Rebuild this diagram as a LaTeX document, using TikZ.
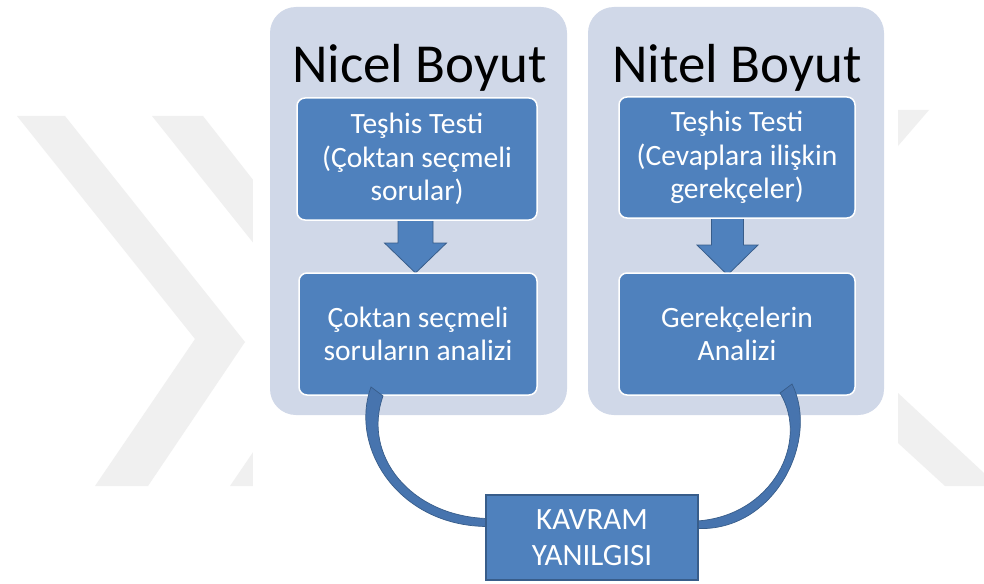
\documentclass[tikz,border=0pt]{standalone}
\usepackage{fontspec}
\setmainfont{Carlito}
\usetikzlibrary{calc}
\definecolor{panelc}{HTML}{D0D8E8}
\definecolor{boxc}{HTML}{4F81BD}
\definecolor{edgec}{HTML}{385D8A}
\definecolor{curvec}{HTML}{4774AE}
\definecolor{wmc}{HTML}{F0F0F0}
\begin{document}
\begin{tikzpicture}[x=1pt,y=-1pt,
  panel/.style={draw=none, fill=panelc, rounded corners=26pt, inner sep=0pt},
  bluebox/.style={draw=white, line width=1.5pt, fill=boxc, rounded corners=8pt,
    text=white, align=center, font=\fontsize{29.5}{33.5}\selectfont, inner sep=0pt},
  titletext/.style={font=\fontsize{55}{60}\selectfont, anchor=base, inner sep=0pt},
  blockarrow/.style={fill=boxc, draw=edgec, line width=0.8pt},
  curvearrow/.style={fill=curvec, draw=edgec, line width=0.7pt},
  watermark/.style={fill=wmc, draw=none},
  resultbox/.style={draw=edgec, line width=1.8pt, fill=boxc, text=white, align=center,
    font=\fontsize{31}{36}\selectfont, inner sep=0pt}]
\useasboundingbox (0,0) rectangle (984,583);
\fill[white] (0,0) rectangle (984,583);
% watermark
\fill[watermark] (17,116) -- (65,116) -- (245,342) -- (148,486) -- (95,486) -- (195,339) -- cycle;
\fill[watermark] (152,116) -- (203,116) -- (380,342) -- (283,486) -- (230,486) -- (330,339) -- cycle;
\fill[watermark] (898,110) -- (929,110) -- (898,146) -- cycle;
\fill[watermark] (898,393) -- (984,473) -- (984,486) -- (945,486) -- (898,443) -- cycle;
\fill[white] (253,0) rectangle (898,583);
% panels
\node[panel, minimum width=297pt, minimum height=408pt] (pL) at (418.5,211) {};
\node[panel, minimum width=296pt, minimum height=408pt] (pR) at (736,211) {};
% titles
\node[titletext] (tL) at (419.5,83) {Nicel Boyut};
\node[titletext] (tR) at (737,83) {Nitel Boyut};
% block arrows (drawn under the boxes)
\coordinate (laT) at (415.5,216);
\coordinate (laB) at (415.5,273);
\coordinate (raT) at (727.5,214);
\coordinate (raB) at (727.5,275);
\draw[blockarrow] ($(laT)+(-17.5,0)$) -- ($(laT)+(17.5,0)$) -- ($(laT)+(17.5,27)$) -- ($(laT)+(31,27)$)
  -- (laB) -- ($(laT)+(-31,27)$) -- ($(laT)+(-17.5,27)$) -- cycle;
\draw[blockarrow] ($(raT)+(-16,0)$) -- ($(raT)+(16,0)$) -- ($(raT)+(16,31)$) -- ($(raT)+(30.5,31)$)
  -- (raB) -- ($(raT)+(-30.5,31)$) -- ($(raT)+(-16,31)$) -- cycle;
% boxes
\node[bluebox, minimum width=240pt, minimum height=122pt] (lt) at (417,159) {Teşhis Testi\\(Çoktan seçmeli\\sorular)};
\node[bluebox, minimum width=238pt, minimum height=122pt] (lb) at (418,334) {Çoktan seçmeli\\soruların analizi};
\node[bluebox, minimum width=236pt, minimum height=121pt] (rt) at (737,157.5) {Teşhis Testi\\(Cevaplara ilişkin\\gerekçeler)};
\node[bluebox, minimum width=236pt, minimum height=122pt] (rb) at (737,334) {Gerekçelerin\\Analizi};
% result box
\node[resultbox, minimum width=212pt, minimum height=85pt] (kv) at (592,537.5) {};
% curved connectors
\coordinate (c1a) at (371,387);
\coordinate (c1b) at (383,396);
\coordinate (c1c) at ($(kv.west)+(2,-19)$);
\coordinate (c1d) at ($(kv.west)+(2,-11)$);
\draw[curvearrow] (c1a) .. controls (349,447) and (398,526) .. (c1d) -- (c1c)
  .. controls (410,516) and (362,455) .. (c1b) -- cycle;
\coordinate (c2a) at (792,384);
\coordinate (c2b) at (780,393);
\coordinate (c2c) at ($(kv.east)+(-2,-16.5)$);
\coordinate (c2d) at ($(kv.east)+(-2,-9)$);
\draw[curvearrow] (c2a) .. controls (820,440) and (775,532) .. (c2d) -- (c2c)
  .. controls (772,516) and (810,442) .. (c2b) -- cycle;
% result box with its text, on top of the curve ends
\node[resultbox, minimum width=212pt, minimum height=85pt] (kv2) at (kv) {KAVRAM\\YANILGISI};
\end{tikzpicture}
\end{document}
